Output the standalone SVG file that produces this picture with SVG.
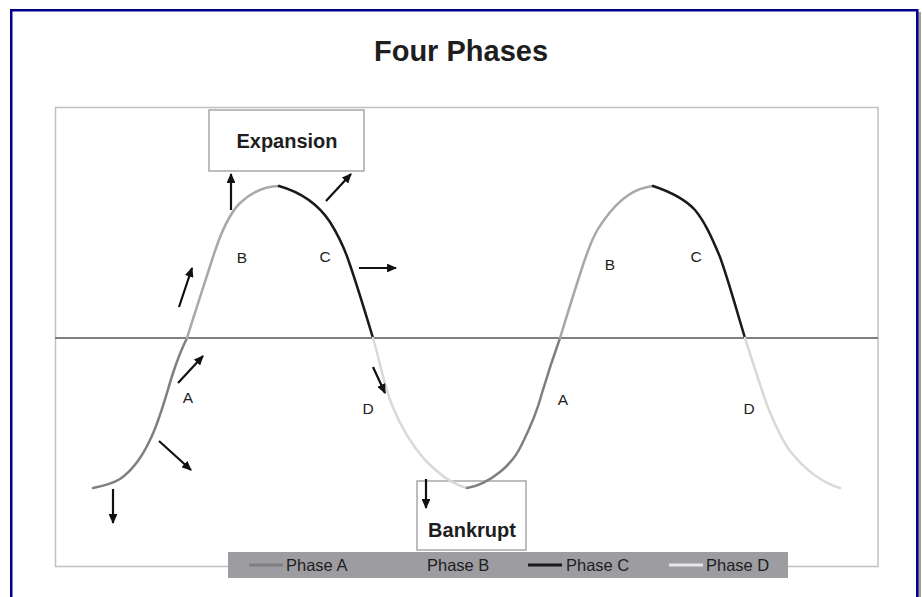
<svg xmlns="http://www.w3.org/2000/svg" width="922" height="597" viewBox="0 0 922 597">
<defs>
<style>
.t{font-family:"Liberation Sans",Arial,sans-serif;fill:#1e1e1e}
.lbl{font-size:15.5px;text-anchor:middle}
.box{fill:#fff;stroke:#a8a8a8;stroke-width:1.5}
.bt{font-size:20px;font-weight:bold;text-anchor:middle}
.cv{fill:none;stroke-width:2.5;stroke-linecap:round;stroke-linejoin:round}
.pa{stroke:#7f7f7f}.pb{stroke:#a8a8a8}.pc{stroke:#1a1a1a}.pd{stroke:#d9d9d9}
.ar{fill:none;stroke:#111;stroke-width:2.2;marker-end:url(#ah)}
.lg{font-size:16.5px}
</style>
<marker id="ah" viewBox="0 0 10 10" refX="9" refY="5" markerWidth="4.5" markerHeight="4" orient="auto" preserveAspectRatio="none"><path d="M0,0 L10,5 L0,10 z" fill="#111"/></marker>
</defs>
<rect x="0" y="0" width="922" height="597" fill="#fff"/>
<rect x="918" y="12" width="3" height="590" fill="#a0a0a0"/>
<rect x="11.25" y="10.25" width="906" height="600" fill="#fff" stroke="#00008b" stroke-width="2.5"/>
<text class="t" x="461" y="61" font-size="29" font-weight="bold" text-anchor="middle" fill="#111">Four Phases</text>
<g id="plot">
<rect x="55.5" y="107.5" width="822.5" height="459" fill="#fff" stroke="#c0c0c0" stroke-width="1.5"/>
<line x1="55" y1="338" x2="878" y2="338" stroke="#808080" stroke-width="2"/>
</g>
<g id="expansion">
<rect class="box" x="209" y="110" width="155" height="61"/>
<text class="t bt" x="287" y="148">Expansion</text>
</g>
<g id="bankrupt">
<rect class="box" x="417" y="481" width="109" height="69"/>
<text class="t bt" x="472" y="537">Bankrupt</text>
</g>
<g id="curve">
<path class="cv pa" d="M93,488 C103,486 112,484 120,479 C133,470 143,455 150,440 C160,420 166,395 173,373 C178,358 182,348 187,338"/>
<path class="cv pb" d="M187,338 C195,312 205,282 213,257 C220,235 228,215 240,203 C252,192 265,186 279,186"/>
<path class="cv pc" d="M279,186 C300,192 318,204 330,222 C340,238 345,250 349,262 C358,288 366,315 373,338"/>
<path class="cv pd" d="M373,338 C380,362 384,385 392,405 C400,425 410,443 425,460 C440,475 452,484 467,488"/>
<path class="cv pa" d="M467,488 C480,486 490,480 500,472 C510,464 517,455 522,444 C530,428 537,412 542,393 C548,373 554,355 560,338"/>
<path class="cv pb" d="M560,338 C568,312 576,286 584,262 C590,245 594,233 604,220 C620,198 635,188 653,186"/>
<path class="cv pc" d="M653,186 C668,191 684,198 695,210 C705,222 712,238 720,257 C729,282 737,312 745,338"/>
<path class="cv pd" d="M745,338 C752,360 760,385 767,405 C775,425 782,440 790,451 C802,466 820,482 840,488"/>
</g>
<g id="labels">
<text class="t lbl" x="242" y="263">B</text>
<text class="t lbl" x="325" y="262">C</text>
<text class="t lbl" x="188" y="403">A</text>
<text class="t lbl" x="368" y="414">D</text>
<text class="t lbl" x="610" y="270">B</text>
<text class="t lbl" x="696" y="262">C</text>
<text class="t lbl" x="563" y="405">A</text>
<text class="t lbl" x="749" y="414">D</text>
</g>
<g id="connectors">
<line class="ar" x1="231" y1="210" x2="231" y2="174"/>
<line class="ar" x1="326" y1="201" x2="351" y2="174"/>
<line class="ar" x1="359" y1="268" x2="396" y2="268"/>
<line class="ar" x1="179" y1="307" x2="192" y2="268"/>
<line class="ar" x1="178" y1="383" x2="203" y2="356"/>
<line class="ar" x1="159" y1="441" x2="191" y2="470"/>
<line class="ar" x1="113" y1="489" x2="113" y2="523"/>
<line class="ar" x1="373" y1="367" x2="385" y2="393"/>
<line class="ar" x1="426" y1="479" x2="426" y2="508"/>
</g>
<g id="legend">
<rect x="228" y="552" width="560" height="26" fill="#9d9da1"/>
<line x1="249" y1="565" x2="283" y2="565" stroke="#7f7f7f" stroke-width="3"/>
<text class="t lg" x="286" y="571">Phase A</text>
<text class="t lg" x="427" y="571">Phase B</text>
<line x1="528" y1="565" x2="562" y2="565" stroke="#1a1a1a" stroke-width="3"/>
<text class="t lg" x="566" y="571">Phase C</text>
<line x1="669" y1="565" x2="703" y2="565" stroke="#e6e6e6" stroke-width="3"/>
<text class="t lg" x="706" y="571">Phase D</text>
</g>
</svg>
